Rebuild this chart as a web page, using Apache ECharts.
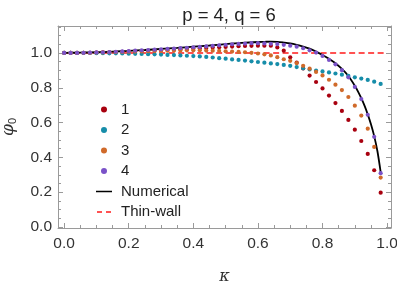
<!DOCTYPE html>
<html>
<head>
<meta charset="utf-8">
<script src="https://cdn.jsdelivr.net/npm/echarts@6/dist/echarts.min.js"></script>
<style>html,body{margin:0;padding:0;background:#fff}#c{width:397px;height:283px}</style>
</head>
<body>
<div id="c"></div>
<script>
// kappa grid for the perturbative series
const kappa = [0,0.02,0.04,0.06,0.08,0.10,0.12,0.14,0.16,0.18,0.20,0.22,0.24,0.26,0.28,0.30,0.32,0.34,0.36,0.38,0.40,0.42,0.44,0.46,0.48,0.50,0.52,0.54,0.56,0.58,0.60,0.62,0.64,0.66,0.68,0.70,0.72,0.74,0.76,0.78,0.80,0.82,0.84,0.86,0.88,0.90,0.92,0.94,0.96,0.98];
const order1 = [1.000,1.000,1.000,1.001,1.001,1.002,1.003,1.004,1.005,1.006,1.008,1.009,1.011,1.012,1.014,1.016,1.017,1.019,1.021,1.023,1.025,1.027,1.029,1.031,1.033,1.035,1.037,1.039,1.040,1.041,1.042,1.042,1.042,1.032,1.013,0.975,0.944,0.911,0.870,0.833,0.796,0.755,0.712,0.667,0.615,0.559,0.494,0.420,0.326,0.197];
const order2 = [1.000,1.000,1.000,1.000,1.000,0.999,0.999,0.998,0.998,0.997,0.996,0.995,0.994,0.993,0.992,0.991,0.989,0.988,0.986,0.984,0.982,0.980,0.977,0.974,0.970,0.967,0.963,0.960,0.956,0.952,0.948,0.944,0.940,0.936,0.931,0.926,0.919,0.912,0.905,0.899,0.894,0.888,0.882,0.875,0.868,0.860,0.853,0.845,0.835,0.822];
const order3 = [1.000,1.000,1.000,1.001,1.001,1.002,1.003,1.004,1.005,1.006,1.007,1.008,1.009,1.010,1.011,1.012,1.013,1.014,1.014,1.015,1.015,1.015,1.014,1.013,1.012,1.010,1.008,1.006,1.004,1.001,0.997,0.992,0.986,0.976,0.964,0.955,0.942,0.926,0.910,0.891,0.871,0.846,0.818,0.787,0.747,0.697,0.640,0.565,0.460,0.284];
const order4 = [1.000,1.000,1.000,1.001,1.002,1.003,1.004,1.005,1.007,1.009,1.011,1.013,1.015,1.017,1.019,1.021,1.023,1.025,1.028,1.030,1.033,1.035,1.038,1.041,1.044,1.047,1.050,1.052,1.054,1.056,1.056,1.055,1.053,1.051,1.047,1.042,1.036,1.027,1.015,1.002,0.983,0.960,0.935,0.901,0.860,0.805,0.735,0.645,0.518,0.309];
// numerical solution
const numKappa = [0,0.05,0.1,0.15,0.2,0.25,0.3,0.35,0.4,0.45,0.5,0.55,0.6,0.62,0.64,0.66,0.68,0.7,0.72,0.74,0.76,0.78,0.8,0.82,0.84,0.86,0.88,0.9,0.91,0.92,0.93,0.94,0.95,0.96,0.97,0.98];
const numPhi = [1.000,1.002,1.004,1.008,1.012,1.017,1.023,1.029,1.036,1.043,1.051,1.058,1.063,1.064,1.065,1.064,1.060,1.055,1.047,1.037,1.025,1.008,0.988,0.966,0.941,0.908,0.868,0.812,0.778,0.740,0.697,0.647,0.590,0.522,0.435,0.315];
// thin-wall approximation
const thinKappa = [0,1];
const thinPhi = [1,1];
const xTicks = [0,0.2,0.4,0.6,0.8,1.0];
const yTicks = [0,0.2,0.4,0.6,0.8,1.0];

const seriesNames = ['1','2','3','4'];
const seriesData = [order1, order2, order3, order4];
const colors = ['#a8000f','#168da9','#d06a2a','#7a52c8'];

const zip = (xs, ys) => xs.map((x, i) => [x, ys[i]]);
const isTick = (ticks, v) => ticks.some(t => Math.abs(t - v) < 1e-9);

const XMIN = -0.019, XMAX = 1.012, YMIN = -0.006, YMAX = 1.155;
const frame = '#9a9a9a';
const labelStyle = {color:'#333', fontSize:15.5, fontFamily:'Liberation Sans'};

function xAx(pos, labels) {
  return {
    type:'value', position:pos, min:XMIN, max:XMAX, splitNumber:5,
    axisLine:{show:true, onZero:false, lineStyle:{color:frame, width:1}},
    axisTick:{show:true, inside:true, length:5, lineStyle:{color:frame}},
    minorTick:{show:true, splitNumber:4, length:3, lineStyle:{color:frame}},
    splitLine:{show:false},
    axisLabel:Object.assign({show:labels, margin:8, showMinLabel:false, showMaxLabel:false,
      formatter: v => isTick(xTicks, v) ? v.toFixed(1) : ''}, labelStyle),
    name: labels ? 'κ' : '', nameLocation:'middle', nameGap:41,
    nameTextStyle:{color:'#333', fontSize:16, fontFamily:'DejaVu Serif', fontStyle:'italic'}
  };
}
function yAx(pos, labels) {
  return {
    type:'value', position:pos, min:YMIN, max:YMAX, splitNumber:5,
    axisLine:{show:true, onZero:false, lineStyle:{color:frame, width:1}},
    axisTick:{show:true, inside:true, length:5, lineStyle:{color:frame}},
    minorTick:{show:true, splitNumber:4, length:3, lineStyle:{color:frame}},
    splitLine:{show:false},
    axisLabel:Object.assign({show:labels, margin:6, showMinLabel:false, showMaxLabel:false,
      formatter: v => isTick(yTicks, v) ? v.toFixed(1) : ''}, labelStyle),
    name: labels ? '{a|φ}{b|0}' : '', nameLocation:'middle', nameGap:40, nameRotate:90,
    nameTextStyle:{color:'#333', rich:{a:{fontSize:17, fontFamily:'DejaVu Serif', fontStyle:'italic', color:'#333'}, b:{fontSize:11, fontFamily:'Liberation Sans', color:'#333', verticalAlign:'bottom', padding:[8,0,0,0]}}}
  };
}

const series = [];
series.push({name:'Thin-wall', type:'line', data:zip(thinKappa, thinPhi), symbol:'none', z:1,
  lineStyle:{color:'#ff1a1a', width:1.6, type:[6,3.5]}, itemStyle:{color:'#ff1a1a'}});
series.push({name:'Numerical', type:'line', data:zip(numKappa, numPhi), symbol:'none', smooth:0.3, z:2,
  lineStyle:{color:'#000', width:1.8}, itemStyle:{color:'#000'}});
seriesNames.forEach((n, i) => {
  series.push({name:n, type:'scatter', data:zip(kappa, seriesData[i]), symbol:'circle', symbolSize:4.2, z:3+i,
    itemStyle:{color:colors[i], opacity:1}});
});

const solidIcon = 'path://M0,0H0.01V0.01H0Z M0,2.2H16V3.8H0Z M16,6H15.99V5.99H16Z';
const dashIcon = 'path://M0,0H0.01V0.01H0Z M1,2.2H6V3.8H1Z M10,2.2H15V3.8H10Z M16,6H15.99V5.99H16Z';

const chart = echarts.init(document.getElementById('c'), null, {renderer:'canvas'});
chart.setOption({
  animation:false,
  backgroundColor:'#fff',
  title:{text:'p = 4, q = 6', left:224, top:1, textAlign:'center',
    textStyle:{fontSize:18.5, fontWeight:'normal', color:'#222', fontFamily:'Liberation Sans'}},
  grid:{left:58, right:6, top:26, bottom:55, containLabel:false, outerBoundsMode:'none'},
  xAxis:[xAx('bottom', true), xAx('top', false)],
  yAxis:[yAx('left', true), yAx('right', false)],
  legend:{orient:'vertical', left:91, top:97, itemWidth:16, itemHeight:6, itemGap:5.5,
    data:[{name:'1', icon:'circle'},{name:'2', icon:'circle'},{name:'3', icon:'circle'},{name:'4', icon:'circle'},
          {name:'Numerical', icon:solidIcon},{name:'Thin-wall', icon:dashIcon}],
    textStyle:{fontSize:15, color:'#222', fontFamily:'Liberation Sans', padding:[0,0,0,4]},
    selectedMode:false},
  series: series
});
</script>
</body>
</html>
